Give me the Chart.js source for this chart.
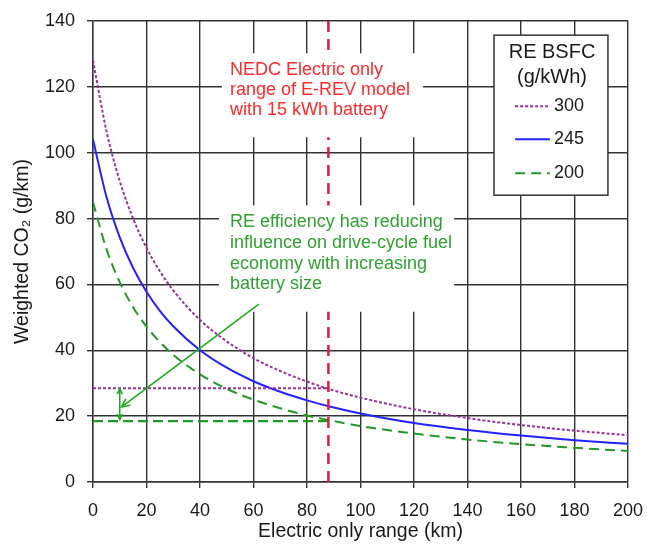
<!DOCTYPE html>
<html>
<head>
<meta charset="utf-8">
<script src="https://cdn.jsdelivr.net/npm/chart.js@4.4.0/dist/chart.umd.min.js"></script>
<style>
  html, body { margin: 0; padding: 0; background: #fff; }
  #wrap { width: 647px; height: 549px; }
</style>
</head>
<body>
<div id="wrap"><canvas id="chart"></canvas></div>
<script>
// electric only range (km)
const ranges = [0, 5, 10, 15, 20, 25, 30, 40, 50, 60, 70, 80, 90, 100, 120, 140, 160, 180, 200];
// weighted CO2 (g/km) for each RE BSFC
const co2_300 = [128, 106.7, 91.4, 80, 71.1, 64, 58.2, 49.2, 42.7, 37.6, 33.7, 30.5, 27.8, 25.6, 22.1, 19.4, 17.3, 15.6, 14.2];
const co2_245 = [104, 86.7, 74.3, 65, 57.8, 52, 47.3, 40, 34.7, 30.6, 27.4, 24.8, 22.6, 20.8, 17.9, 15.8, 14.1, 12.7, 11.6];
const co2_200 = [85, 70.8, 60.7, 53.1, 47.2, 42.5, 38.6, 32.7, 28.3, 25, 22.4, 20.2, 18.5, 17, 14.7, 12.9, 11.5, 10.4, 9.4];
// reference lines at NEDC range
const refX = [0, 88];
const ref300 = [28.5, 28.5];
const ref200 = [18.5, 18.5];
const nedcX = [88, 88];
const nedcY = [0, 140];

const xTicks = [0, 20, 40, 60, 80, 100, 120, 140, 160, 180, 200];
const yTicks = [0, 20, 40, 60, 80, 100, 120, 140];
const legendLabels = ["300", "245", "200"];

const purple = "#993399", blue = "#2222ff", green = "#229922", red = "#e8173c";
const FONT = "'Liberation Sans', Arial, sans-serif";

function pts(xs, ys) {
  return xs.map((v, i) => ({ x: v, y: ys[i] }));
}

function arrowHead(ctx, x1, y1, x2, y2, size) {
  const a = Math.atan2(y2 - y1, x2 - x1);
  ctx.beginPath();
  ctx.moveTo(x2 - size * Math.cos(a - 0.45), y2 - size * Math.sin(a - 0.45));
  ctx.lineTo(x2, y2);
  ctx.lineTo(x2 - size * Math.cos(a + 0.45), y2 - size * Math.sin(a + 0.45));
  ctx.stroke();
}

const annot = {
  id: "annot",
  afterDatasetsDraw(chart) {
    const { ctx, scales: { x, y } } = chart;
    const px = v => x.getPixelForValue(v);
    const py = v => y.getPixelForValue(v);
    ctx.save();

    // white boxes behind annotation text
    ctx.fillStyle = "#fff";
    ctx.fillRect(px(48.2), py(130.2), px(123.4) - px(48.2), py(104.7) - py(130.2));
    ctx.fillRect(px(47.1), py(84), px(135) - px(47.1), py(51.7) - py(84));

    ctx.font = "18px " + FONT;
    ctx.textBaseline = "middle";
    ctx.textAlign = "left";
    ctx.fillStyle = "#ff2a2a";
    ["NEDC Electric only", "range of E-REV model", "with 15 kWh battery"].forEach((t, i) => {
      ctx.fillText(t, px(51.2), py([125.2, 119.1, 113][i]));
    });
    ctx.fillStyle = "#30a030";
    ["RE efficiency has reducing", "influence on drive-cycle fuel", "economy with increasing", "battery size"].forEach((t, i) => {
      ctx.fillText(t, px(51.2), py([78.8, 72.7, 66.1, 60][i]));
    });

    // arrows
    ctx.strokeStyle = "#22aa22";
    ctx.lineWidth = 1.6;
    ctx.beginPath();
    ctx.moveTo(px(62), py(54));
    ctx.lineTo(px(10.7), py(22.8));
    ctx.stroke();
    arrowHead(ctx, px(62), py(54), px(10.7), py(22.8), 9);
    ctx.beginPath();
    ctx.moveTo(px(10), py(19));
    ctx.lineTo(px(10), py(28.3));
    ctx.stroke();
    arrowHead(ctx, px(10), py(19), px(10), py(28.3), 6);
    arrowHead(ctx, px(10), py(28.3), px(10), py(19), 6);

    // legend box
    const lx1 = px(149.9), lx2 = px(192.5), ly1 = py(135.7), ly2 = py(87.1);
    ctx.fillStyle = "#fff";
    ctx.fillRect(lx1, ly1, lx2 - lx1, ly2 - ly1);
    ctx.strokeStyle = "#333";
    ctx.lineWidth = 1.5;
    ctx.strokeRect(lx1, ly1, lx2 - lx1, ly2 - ly1);
    ctx.fillStyle = "#1a1a1a";
    ctx.font = "20px " + FONT;
    ctx.textAlign = "center";
    ctx.fillText("RE BSFC", px(171.6), py(130.5));
    ctx.fillText("(g/kWh)", px(171.6), py(122.9));
    ctx.font = "18px " + FONT;
    const styles = [[purple, [3, 2]], [blue, []], [green, [10, 6]]];
    [114.1, 104.1, 93.8].forEach((v, i) => {
      ctx.strokeStyle = styles[i][0];
      ctx.setLineDash(styles[i][1]);
      ctx.lineWidth = 2;
      ctx.beginPath();
      ctx.moveTo(px(157.8), py(v));
      ctx.lineTo(px(170.8), py(v));
      ctx.stroke();
      ctx.setLineDash([]);
      ctx.textAlign = "left";
      ctx.fillText(legendLabels[i], px(172.3), py(v));
    });
    ctx.restore();
  }
};

const ctx = document.getElementById("chart").getContext("2d");
const chart = new Chart(ctx, {
  type: "line",
  data: {
    datasets: [
      { data: pts(nedcX, nedcY), borderColor: red, borderWidth: 2.5, borderDash: [11, 7], pointRadius: 0, tension: 0 },
      { data: pts(refX, ref300), borderColor: purple, borderWidth: 2, borderDash: [3, 2], pointRadius: 0, tension: 0 },
      { data: pts(refX, ref200), borderColor: green, borderWidth: 2.2, borderDash: [10, 5], pointRadius: 0, tension: 0 },
      { data: pts(ranges, co2_300), borderColor: purple, borderWidth: 2, borderDash: [3, 2], pointRadius: 0, cubicInterpolationMode: "monotone" },
      { data: pts(ranges, co2_245), borderColor: blue, borderWidth: 2, pointRadius: 0, cubicInterpolationMode: "monotone" },
      { data: pts(ranges, co2_200), borderColor: green, borderWidth: 2, borderDash: [10, 6], pointRadius: 0, cubicInterpolationMode: "monotone" }
    ]
  },
  options: {
    responsive: true,
    maintainAspectRatio: false,
    animation: false,
    layout: { padding: { left: 0, right: 19, top: 21, bottom: 0 } },
    plugins: { legend: { display: false }, tooltip: { enabled: false } },
    scales: {
      x: {
        type: "linear",
        min: 0,
        max: 200,
        afterFit: s => { s.height = 67; s.paddingLeft = 0; s.paddingRight = 0; },
        afterBuildTicks: s => { s.ticks = xTicks.map(v => ({ value: v })); },
        grid: { color: "#333", lineWidth: 1.4, tickLength: 6 },
        border: { color: "#333", width: 1.4 },
        ticks: { color: "#1a1a1a", font: { family: FONT, size: 18 }, padding: 12, maxRotation: 0 },
        title: { display: true, text: "Electric only range (km)", color: "#1a1a1a", font: { family: FONT, size: 19.5 }, padding: { top: 0, bottom: 6 } }
      },
      y: {
        min: 0,
        max: 140,
        afterFit: s => { s.width = 93; s.paddingTop = 0; s.paddingBottom = 0; },
        afterBuildTicks: s => { s.ticks = yTicks.map(v => ({ value: v })); },
        grid: { color: "#333", lineWidth: 1.4, tickLength: 6 },
        border: { color: "#333", width: 1.4 },
        ticks: { color: "#1a1a1a", font: { family: FONT, size: 18 }, padding: 12 },
        title: { display: true, text: "Weighted CO\u2082 (g/km)", color: "#1a1a1a", font: { family: FONT, size: 19.5 }, padding: { top: 11, bottom: 0 } }
      }
    }
  },
  plugins: [annot]
});
</script>
</body>
</html>
